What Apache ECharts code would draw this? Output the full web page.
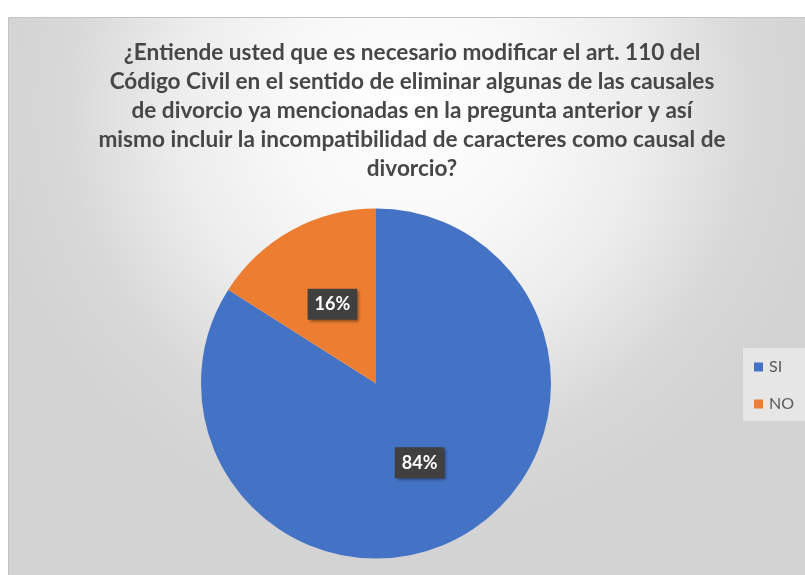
<!DOCTYPE html>
<html>
<head>
<meta charset="utf-8">
<script src="https://cdn.jsdelivr.net/npm/echarts@6/dist/echarts.min.js"></script>
<style>
  html, body { margin: 0; padding: 0; background: #ffffff; }
  #chart { width: 805px; height: 575px; }
</style>
</head>
<body>
<div id="chart"></div>
<script>
const titleLines = [
  '¿Entiende usted que es necesario modificar el art. 110 del',
  'Código Civil en el sentido de eliminar algunas de las causales',
  'de divorcio ya mencionadas en la pregunta anterior y así',
  'mismo incluir la incompatibilidad de caracteres como causal de',
  'divorcio?'
];
const categories = ['SI', 'NO'];
const values = [84, 16];
const colors = ['#4472C4', '#ED7D31'];

// fit title font so the first line spans about 576px like the reference
const mctx = document.createElement('canvas').getContext('2d');
mctx.font = 'bold 100px Lato';
const w100 = mctx.measureText(titleLines[0]).width;
const titleSize = Math.round(10 * 100 * 576 / w100) / 10;

const chart = echarts.init(document.getElementById('chart'), null, { renderer: 'canvas' });
const option = {
  animation: false,
  backgroundColor: '#ffffff',
  graphic: [{
    type: 'rect',
    z: -10,
    silent: true,
    shape: { x: 8.5, y: 17.5, width: 810, height: 570 },
    style: {
      fill: {
        type: 'radial', x: 410, y: 110, r: 420, global: true,
        colorStops: [
          { offset: 0, color: '#ffffff' },
          { offset: 0.3, color: '#f8f8f8' },
          { offset: 0.55, color: '#ededed' },
          { offset: 0.72, color: '#e0e0e0' },
          { offset: 0.82, color: '#d8d8d8' },
          { offset: 1, color: '#d3d3d3' }
        ]
      },
      stroke: '#c4c4c4',
      lineWidth: 1
    }
  }],
  title: {
    text: titleLines.join('\n'),
    left: 412,
    top: 38,
    padding: 0,
    textAlign: 'center',
    textStyle: {
      fontFamily: 'Lato',
      fontWeight: 'bold',
      fontSize: titleSize,
      lineHeight: 29,
      color: '#474747'
    }
  },
  legend: {
    orient: 'vertical',
    left: 743,
    top: 348,
    padding: [11, 40, 9, 11],
    backgroundColor: '#e6e6e6',
    itemWidth: 9,
    itemHeight: 9,
    itemGap: 21,
    icon: 'rect',
    data: categories,
    textStyle: {
      fontFamily: 'Lato',
      fontSize: 16,
      color: '#595959',
      padding: [0, 0, 0, 1]
    }
  },
  series: [{
    type: 'pie',
    center: [376, 383.5],
    radius: 175,
    startAngle: 90,
    clockwise: true,
    data: categories.map((c, i) => ({ name: c, value: values[i], itemStyle: { color: colors[i] } })),
    label: {
      show: true,
      position: 'inside',
      formatter: '{d}%',
      fontFamily: 'Lato',
      fontWeight: 'bold',
      fontSize: 18,
      color: '#ffffff',
      backgroundColor: '#404040',
      padding: [7, 7, 6, 7],
      shadowColor: 'rgba(0,0,0,0.45)',
      shadowBlur: 3,
      shadowOffsetX: 2,
      shadowOffsetY: 2
    },
    labelLine: { show: false },
    emphasis: { disabled: true }
  }]
};
chart.setOption(option);
</script>
</body>
</html>
